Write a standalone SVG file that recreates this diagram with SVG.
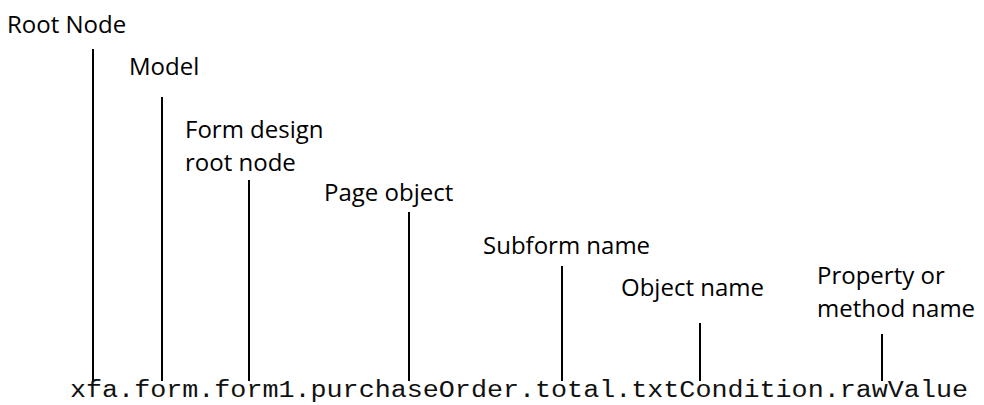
<svg xmlns="http://www.w3.org/2000/svg" width="984" height="405" viewBox="0 0 984 405">
<style>
.lbl{font-family:"Open Sans","Noto Sans",sans-serif;font-size:24px;fill:#000}
.code{font-family:"Liberation Mono","Courier New",monospace;font-size:23px;fill:#111}
.ln{stroke:#000;stroke-width:2;fill:none}
</style>
<rect width="984" height="405" fill="#fff"/>
<g id="connectors">
<line class="ln" x1="93" y1="49" x2="93" y2="381"/>
<line class="ln" x1="162" y1="97" x2="162" y2="381"/>
<line class="ln" x1="249" y1="180" x2="249" y2="381"/>
<line class="ln" x1="409" y1="212" x2="409" y2="381"/>
<line class="ln" x1="562" y1="266" x2="562" y2="381"/>
<line class="ln" x1="700" y1="323" x2="700" y2="381"/>
<line class="ln" x1="882" y1="334" x2="882" y2="381"/>
</g>
<g id="root-node"><text class="lbl" x="7" y="33">Root Node</text></g>
<g id="model"><text class="lbl" x="129" y="75">Model</text></g>
<g id="form-design"><text class="lbl" x="185" y="138">Form design</text><text class="lbl" x="185" y="171">root node</text></g>
<g id="page-object"><text class="lbl" x="324" y="201">Page object</text></g>
<g id="subform-name"><text class="lbl" x="483" y="254">Subform name</text></g>
<g id="object-name"><text class="lbl" x="621" y="296">Object name</text></g>
<g id="property-name"><text class="lbl" x="817" y="284">Property or</text><text class="lbl" x="817" y="317">method name</text></g>
<g id="expression"><text class="code" x="70" y="397" textLength="898" lengthAdjust="spacingAndGlyphs">xfa.form.form1.purchaseOrder.total.txtCondition.rawValue</text></g>
</svg>
